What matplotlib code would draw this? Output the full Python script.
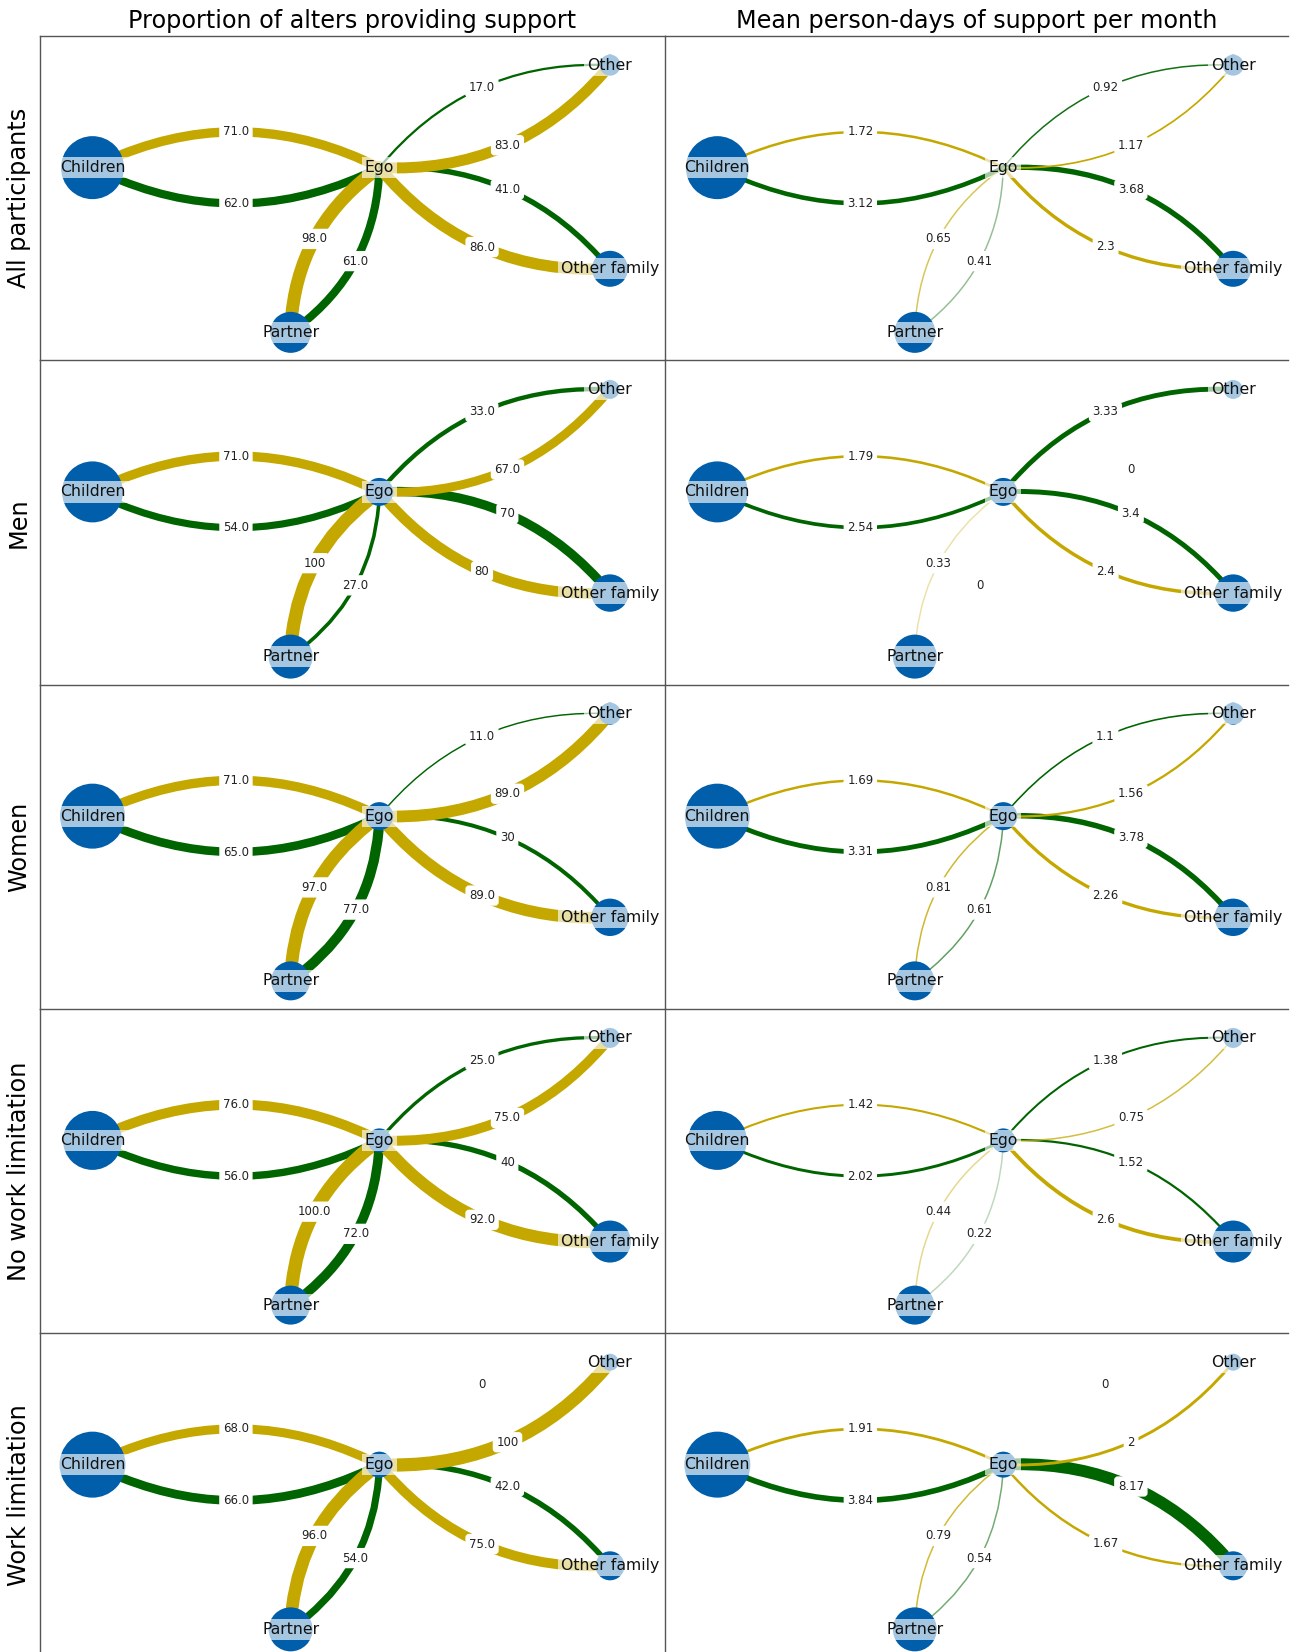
import matplotlib.pyplot as plt
from matplotlib.patches import FancyArrowPatch

# 数据
alters = ['Children', 'Partner', 'Other family', 'Other']
rows = ['All participants', 'Men', 'Women', 'No work limitation', 'Work limitation']
col_titles = ['Proportion of alters providing support', 'Mean person-days of support per month']

# gold = ego -> alter, green = alter -> ego  (order: Children, Partner, Other family, Other)
prop_given = [[71.0, 98.0, 86.0, 83.0],
              [71.0, 100, 80, 67.0],
              [71.0, 97.0, 89.0, 89.0],
              [76.0, 100.0, 92.0, 75.0],
              [68.0, 96.0, 75.0, 100]]
prop_received = [[62.0, 61.0, 41.0, 17.0],
                 [54.0, 27.0, 70, 33.0],
                 [65.0, 77.0, 30, 11.0],
                 [56.0, 72.0, 40, 25.0],
                 [66.0, 54.0, 42.0, 0]]
days_given = [[1.72, 0.65, 2.3, 1.17],
              [1.79, 0.33, 2.4, 0],
              [1.69, 0.81, 2.26, 1.56],
              [1.42, 0.44, 2.6, 0.75],
              [1.91, 0.79, 1.67, 2]]
days_received = [[3.12, 0.41, 3.68, 0.92],
                 [2.54, 0, 3.4, 3.33],
                 [3.31, 0.61, 3.78, 1.1],
                 [2.02, 0.22, 1.52, 1.38],
                 [3.84, 0.54, 8.17, 0]]

# node radius (px): Children, Partner, Other family, Other, Ego
node_radius = [[31.5, 20.5, 18.0, 10.5, 0],
               [30.5, 22.0, 18.7, 9.5, 14.0],
               [32.5, 19.5, 18.7, 11.0, 14.0],
               [29.5, 19.5, 21.0, 10.0, 12.0],
               [33.0, 22.0, 14.5, 8.5, 13.0]]

# layout (fraction of panel, y measured from top)
layout = {'Children': (0.084, 0.406), 'Ego': (0.543, 0.406), 'Other': (0.912, 0.090),
          'Other family': (0.912, 0.718), 'Partner': (0.401, 0.914)}

GOLD = '#C4A800'
GREEN = '#006400'
NODE = '#005EAB'
RAD = 0.25

W, H = 1292, 1652
fig = plt.figure(figsize=(W / 100, H / 100), dpi=100)

col_left = [40, 665]
col_width = [625, 623]
row_top0, row_h = 36, 324.25


def label_point(ax, pa, pb):
    # midpoint of the arc3 bezier, computed in display space
    a = ax.transData.transform(pa)
    b = ax.transData.transform(pb)
    mx, my = (a + b) / 2
    dx, dy = b - a
    p = (mx + 0.5 * RAD * dy, my - 0.5 * RAD * dx)
    return ax.transData.inverted().transform(p)


for i, row in enumerate(rows):
    for j in range(2):
        top = row_top0 + i * row_h
        ax = fig.add_axes([col_left[j] / W, 1 - (top + row_h) / H, col_width[j] / W, row_h / H])
        ax.set_xlim(0, 1)
        ax.set_ylim(0, 1)
        ax.set_xticks([])
        ax.set_yticks([])
        for s in ['right', 'bottom']:
            ax.spines[s].set_visible(False)
        for s in ['top', 'left']:
            ax.spines[s].set_color('#555555')
            ax.spines[s].set_linewidth(1.0)

        pos = {k: (v[0], 1 - v[1]) for k, v in layout.items()}
        rads = dict(zip(alters + ['Ego'], node_radius[i]))
        rpt = {k: r * 0.72 for k, r in rads.items()}

        if j == 0:
            given, received = prop_given[i], prop_received[i]
        else:
            given, received = days_given[i], days_received[i]

        for k, alter in enumerate(alters):
            for val, src, dst, col in [(given[k], 'Ego', alter, GOLD),
                                       (received[k], alter, 'Ego', GREEN)]:
                if j == 0:
                    lw = val / 10.5
                    alpha = 1.0
                else:
                    lw = max(1.1, val * 1.05)
                    alpha = min(1.0, max(0.25, val))
                if val > 0:
                    e = FancyArrowPatch(pos[src], pos[dst], connectionstyle=f'arc3,rad={RAD}',
                                        arrowstyle='-', shrinkA=rpt[src], shrinkB=rpt[dst],
                                        lw=lw, color=col, alpha=alpha, zorder=1)
                    ax.add_patch(e)
                lx, ly = label_point(ax, pos[src], pos[dst])
                ax.text(lx, ly, str(val), ha='center', va='center', fontsize=8.5, color='#222222',
                        bbox=dict(boxstyle='round,pad=0.25', fc='white', ec='white'), zorder=5)

        names = alters + ['Ego']
        ax.scatter([pos[n][0] for n in names], [pos[n][1] for n in names],
                   s=[(2 * rpt[n]) ** 2 for n in names], color=NODE, zorder=2, linewidths=0)
        for n in names:
            ax.text(pos[n][0], pos[n][1], n, ha='center', va='center', fontsize=11.3, color='#111111',
                    bbox=dict(boxstyle='square,pad=0.2', fc='white', ec='none', alpha=0.65), zorder=4)

for j, t in enumerate(col_titles):
    fig.text((col_left[j] + col_width[j] / 2) / W, 1 - 21 / H, t, ha='center', va='center', fontsize=17.2)

for i, row in enumerate(rows):
    yc = row_top0 + i * row_h + row_h / 2
    fig.text(19 / W, 1 - yc / H, row, rotation=90, ha='center', va='center', fontsize=17.3)

plt.savefig('out.png', dpi=100)
plt.close()
